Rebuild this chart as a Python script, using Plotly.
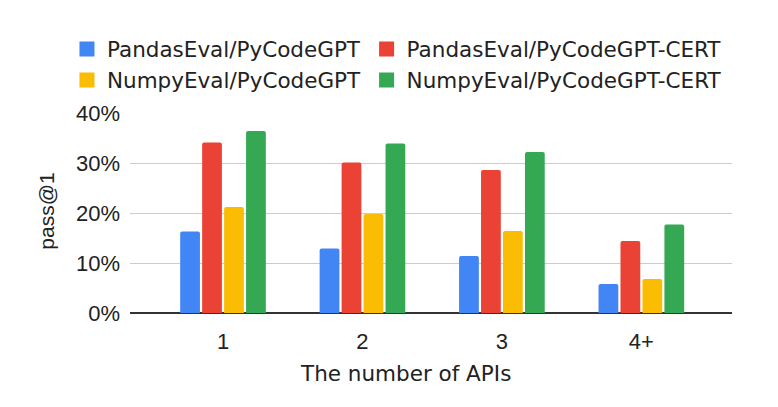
import plotly.graph_objects as go

categories = ["1", "2", "3", "4+"]
series_names = ["PandasEval/PyCodeGPT", "PandasEval/PyCodeGPT-CERT",
                "NumpyEval/PyCodeGPT", "NumpyEval/PyCodeGPT-CERT"]
pandas_base = [0.163, 0.129, 0.114, 0.058]
pandas_cert = [0.341, 0.301, 0.286, 0.144]
numpy_base = [0.212, 0.198, 0.164, 0.068]
numpy_cert = [0.364, 0.339, 0.322, 0.177]
y_ticks = [0, 0.1, 0.2, 0.3, 0.4]
colors = ["#4285F4", "#EA4335", "#FBBC04", "#34A853"]
legend_ids = ["legend", "legend2", "legend", "legend2"]

values = [pandas_base, pandas_cert, numpy_base, numpy_cert]
xpos = list(range(len(categories)))

fig = go.Figure()
for name, vals, col in zip(series_names, values, colors):
    fig.add_trace(go.Bar(x=xpos, y=vals, name=name, showlegend=False,
                         marker=dict(color=col, line=dict(width=0), cornerradius=2)))
# legend entries (two columns, as in the reference)
for name, col, lg in zip(series_names, colors, legend_ids):
    fig.add_trace(go.Scatter(x=[None], y=[None], mode="markers", name=name, legend=lg,
                             marker=dict(symbol="square", size=15, color=col)))

tick_font = dict(family="Liberation Sans, Arial, sans-serif", size=22, color="#222222")
legend_font = dict(family="DejaVu Sans, sans-serif", size=21.5, color="#222222")
common_leg = dict(orientation="v", yanchor="top", xanchor="left", font=legend_font,
                  bgcolor="rgba(0,0,0,0)", borderwidth=0, traceorder="normal")

fig.update_layout(
    width=770, height=399,
    margin=dict(l=122, r=46, t=105, b=94),
    paper_bgcolor="white", plot_bgcolor="white",
    barmode="group", bargap=0.37, bargroupgap=0.1,
    showlegend=True,
    legend=dict(x=-0.1047, y=1.422, **common_leg),
    legend2=dict(x=0.393, y=1.422, **common_leg),
    xaxis=dict(tickvals=xpos, ticktext=categories, range=[-0.667, 3.65],
               showgrid=False, showline=False, zeroline=False, ticks="",
               tickfont=tick_font, ticklabelstandoff=13),
    yaxis=dict(range=[0, 0.4], tickvals=y_ticks, tickformat=".0%", showgrid=True,
               gridcolor="#cccccc", gridwidth=1, zeroline=True, zerolinecolor="#333333",
               zerolinewidth=1.5, showline=False, ticks="", tickfont=tick_font,
               ticklabelstandoff=9),
    annotations=[
        dict(text="The number of APIs", xref="paper", yref="paper", x=0.458, y=-0.3035,
             xanchor="center", yanchor="middle", showarrow=False,
             font=dict(family="DejaVu Sans, sans-serif", size=21.5, color="#222222")),
        dict(text="pass@1", xref="paper", yref="paper", x=-0.14, y=0.51, textangle=-90,
             xanchor="center", yanchor="middle", showarrow=False,
             font=dict(family="Liberation Sans, Arial, sans-serif", size=21, color="#222222")),
    ],
)

fig.write_html("out.html")
